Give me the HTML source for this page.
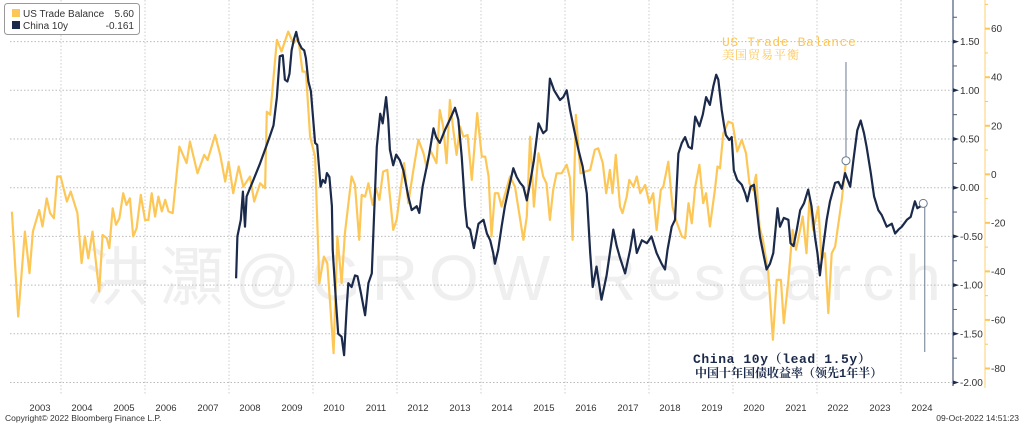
<!DOCTYPE html>
<html><head><meta charset="utf-8"><style>
body{margin:0;background:#fff;width:1024px;height:426px;overflow:hidden;font-family:"Liberation Sans","Noto Sans CJK SC",sans-serif;}
svg{display:block}
</style></head><body>
<svg id="chart" width="1024" height="426" viewBox="0 0 1024 426" xmlns="http://www.w3.org/2000/svg">
<text x="85" y="300" font-size="64" fill="#efefef" font-family="'Liberation Sans','Noto Sans CJK SC',sans-serif" letter-spacing="11">洪灝@GROW Research</text>
<g id="grid"></g>
<g id="series"></g>
<g id="axes"></g>
<g>
<rect x="4.5" y="3.5" width="135" height="31" rx="3" fill="#fff" stroke="#999"/>
<rect x="12" y="9" width="8" height="8" fill="#fdc757"/>
<text x="23" y="17" font-size="10" fill="#333">US Trade Balance</text>
<text x="134" y="17" font-size="10" fill="#333" text-anchor="end">5.60</text>
<rect x="12" y="21" width="8" height="8" fill="#1b2a4a"/>
<text x="23" y="29" font-size="10" fill="#333">China 10y</text>
<text x="134" y="29" font-size="10" fill="#333" text-anchor="end">-0.161</text>
</g>
<g font-family="'Liberation Mono','Noto Serif CJK SC',monospace">
<text x="722" y="46" font-size="13" fill="#fdc757" letter-spacing="0.6">US Trade Balance</text>
<text x="722" y="59" font-size="12" fill="#fdc757" letter-spacing="1">美国贸易平衡</text>
<text x="693" y="363" font-size="13" font-weight="bold" fill="#1b2a4a" letter-spacing="0.6">China 10y（lead 1.5y）</text>
<text x="695" y="377" font-size="12" font-weight="bold" fill="#1b2a4a">中国十年国债收益率（领先1年半）</text>
</g>
<text x="5" y="421" font-size="8.5" fill="#333">Copyright© 2022 Bloomberg Finance L.P.</text>
<text x="1019" y="421" font-size="8.5" fill="#333" text-anchor="end">09-Oct-2022 14:51:23</text>
</svg>
<script>
const tbT=[2002.83,2002.98,2003.14,2003.25,2003.33,2003.48,2003.56,2003.66,2003.74,2003.83,2003.91,2003.99,2004.14,2004.23,2004.39,2004.49,2004.57,2004.65,2004.75,2004.91,2004.99,2005.09,2005.15,2005.23,2005.31,2005.39,2005.48,2005.56,2005.64,2005.72,2005.80,2005.90,2006.00,2006.08,2006.16,2006.24,2006.32,2006.40,2006.48,2006.56,2006.66,2006.82,2006.99,2007.07,2007.25,2007.41,2007.49,2007.67,2007.79,2007.91,2007.99,2008.10,2008.23,2008.34,2008.50,2008.60,2008.74,2008.86,2008.90,2008.98,2009.14,2009.25,2009.41,2009.53,2009.65,2009.75,2009.83,2009.93,2010.05,2010.15,2010.26,2010.34,2010.49,2010.58,2010.68,2010.76,2010.92,2011.00,2011.10,2011.16,2011.24,2011.32,2011.42,2011.50,2011.58,2011.67,2011.77,2011.91,2011.99,2012.17,2012.27,2012.39,2012.51,2012.63,2012.71,2012.79,2012.94,2013.02,2013.10,2013.18,2013.26,2013.34,2013.42,2013.50,2013.58,2013.68,2013.78,2013.91,2014.02,2014.10,2014.18,2014.25,2014.33,2014.41,2014.49,2014.69,2014.81,2015.01,2015.09,2015.17,2015.26,2015.37,2015.48,2015.56,2015.64,2015.72,2015.80,2015.92,2016.04,2016.12,2016.18,2016.26,2016.37,2016.48,2016.60,2016.71,2016.79,2016.90,2016.98,2017.07,2017.13,2017.21,2017.31,2017.37,2017.47,2017.53,2017.63,2017.71,2017.79,2017.91,2018.01,2018.10,2018.18,2018.28,2018.34,2018.46,2018.56,2018.64,2018.78,2018.86,2018.94,2019.02,2019.10,2019.20,2019.29,2019.36,2019.45,2019.57,2019.63,2019.69,2019.77,2019.89,2019.99,2020.10,2020.21,2020.31,2020.39,2020.47,2020.55,2020.63,2020.72,2020.84,2020.95,2021.04,2021.14,2021.21,2021.32,2021.42,2021.50,2021.58,2021.66,2021.75,2021.82,2021.91,2022.03,2022.11,2022.19,2022.27,2022.35,2022.43,2022.59,2022.69];
const tbV=[-15.4,-58.6,-23.6,-40.7,-23.6,-14.7,-21.5,-9.9,-16.0,-18.1,-0.9,-0.9,-11.2,-7.1,-16.0,-36.6,-25.6,-34.6,-23.6,-48.3,-25.0,-26.3,-30.4,-14.0,-20.8,-18.1,-7.8,-12.6,-9.9,-25.6,-22.2,-8.5,-18.8,-18.8,-7.8,-17.4,-9.2,-15.3,-10.5,-15.3,-16.0,11.4,4.6,13.5,0.4,8.0,5.9,16.2,8.0,-3.0,5.2,-7.8,3.2,-5.1,-0.9,-11.2,-3.7,-5.7,25.8,24.5,55.4,50.6,58.8,54.0,56.0,42.3,42.3,15.5,7.3,-44.9,-33.9,-36.6,-73.7,-25.6,-44.9,-24.3,-0.9,-4.4,-27.0,-8.5,-9.2,-3.7,-12.6,-5.7,-10.5,1.1,1.8,-22.9,-18.8,4.6,-11.9,1.8,14.2,8.7,2.5,10.1,4.6,26.5,19.7,4.6,30.6,18.3,8.0,19.7,15.5,16.2,-2.3,25.2,7.3,7.3,-0.9,-25.6,-7.8,-7.8,-13.3,-0.9,-5.1,-27.0,-17.4,15.5,-13.3,8.7,-0.9,-3.7,-18.8,-6.4,0.4,0.4,3.9,-1.6,-27.0,24.5,0.4,1.1,1.8,10.1,10.7,4.6,-7.8,1.8,-7.8,8.0,-13.3,-16.0,-9.2,-2.3,-5.1,-0.9,-7.8,-4.4,-11.9,-7.8,-22.9,-6.4,-5.1,5.2,-13.3,-18.8,-25.6,-26.3,-11.9,-20.2,-5.1,3.9,-11.9,-7.8,-21.5,-6.4,3.2,2.5,16.9,21.7,21.0,9.4,14.2,8.7,-3.7,-6.4,-0.2,-21.5,-27.7,-40.7,-68.2,-43.5,-43.5,-61.3,-43.5,-22.9,-31.1,-24.3,-17.4,-32.5,-10.5,-22.9,-13.3,-35.3,-32.5,-57.2,-32.5,-29.8,-10.5,5.6];
const cnT=[2008.17,2008.20,2008.28,2008.33,2008.38,2008.42,2008.58,2008.74,2008.90,2008.98,2009.06,2009.14,2009.21,2009.28,2009.33,2009.39,2009.44,2009.49,2009.55,2009.60,2009.65,2009.73,2009.79,2009.83,2009.89,2009.95,2010.05,2010.10,2010.18,2010.23,2010.29,2010.33,2010.39,2010.45,2010.47,2010.55,2010.60,2010.68,2010.74,2010.80,2010.84,2010.92,2011.00,2011.06,2011.14,2011.24,2011.32,2011.40,2011.45,2011.52,2011.60,2011.66,2011.74,2011.79,2011.83,2011.91,2011.98,2012.07,2012.15,2012.27,2012.35,2012.47,2012.53,2012.61,2012.71,2012.77,2012.87,2012.93,2013.02,2013.14,2013.26,2013.38,2013.46,2013.54,2013.62,2013.67,2013.74,2013.83,2013.94,2014.06,2014.14,2014.22,2014.29,2014.33,2014.41,2014.49,2014.57,2014.69,2014.77,2014.85,2014.93,2015.01,2015.09,2015.17,2015.26,2015.37,2015.48,2015.56,2015.64,2015.74,2015.88,2015.96,2016.04,2016.12,2016.20,2016.32,2016.42,2016.52,2016.60,2016.66,2016.75,2016.87,2016.99,2017.15,2017.23,2017.31,2017.43,2017.55,2017.63,2017.71,2017.83,2017.95,2018.06,2018.18,2018.30,2018.38,2018.44,2018.54,2018.62,2018.70,2018.78,2018.86,2018.94,2019.02,2019.10,2019.20,2019.28,2019.36,2019.45,2019.53,2019.60,2019.65,2019.73,2019.79,2019.83,2019.91,2019.97,2020.02,2020.10,2020.21,2020.29,2020.34,2020.42,2020.50,2020.56,2020.64,2020.72,2020.80,2020.88,2020.96,2021.06,2021.12,2021.21,2021.32,2021.37,2021.44,2021.52,2021.60,2021.69,2021.79,2021.87,2021.95,2022.01,2022.07,2022.15,2022.23,2022.31,2022.43,2022.51,2022.59,2022.67,2022.79,2022.87,2022.96,2023.04,2023.12,2023.18,2023.28,2023.36,2023.46,2023.54,2023.66,2023.78,2023.86,2023.94,2024.02,2024.14,2024.23,2024.33,2024.39,2024.47,2024.53];
const cnV=[-0.93,-0.50,-0.33,-0.04,-0.40,-0.09,0.08,0.25,0.44,0.54,0.64,0.93,1.35,1.36,1.11,1.09,1.17,1.41,1.53,1.60,1.50,1.43,1.41,1.33,1.09,0.99,0.46,0.44,0.01,0.08,0.05,0.15,0.11,-0.19,-0.64,-1.19,-1.50,-1.53,-1.72,-1.25,-0.98,-1.02,-0.90,-0.91,-1.08,-1.31,-0.98,-0.88,-0.33,0.42,0.76,0.66,0.93,0.70,0.39,0.23,0.34,0.28,0.18,-0.09,-0.23,-0.19,-0.26,0.01,0.22,0.35,0.61,0.52,0.46,0.59,0.70,0.82,0.70,0.32,-0.19,-0.40,-0.43,-0.62,-0.37,-0.33,-0.47,-0.54,-0.67,-0.78,-0.64,-0.40,-0.19,0.05,0.20,0.11,0.05,0.01,-0.13,0.05,0.28,0.66,0.56,0.59,1.12,1.00,0.90,0.93,1.00,0.80,0.63,0.39,0.22,-0.06,-0.67,-1.02,-0.81,-1.15,-0.90,-0.43,-0.60,-0.72,-0.88,-0.64,-0.43,-0.67,-0.54,-0.57,-0.50,-0.67,-0.78,-0.84,-0.64,-0.40,-0.33,0.35,0.46,0.52,0.42,0.40,0.73,0.63,0.75,0.93,0.85,1.04,1.16,1.11,0.80,0.63,0.54,0.49,0.52,0.18,0.08,0.03,-0.06,-0.14,0.01,0.03,-0.19,-0.50,-0.67,-0.84,-0.78,-0.67,-0.21,-0.40,-0.31,-0.33,-0.57,-0.60,-0.43,-0.23,-0.16,-0.02,-0.19,-0.50,-0.67,-0.90,-0.60,-0.33,-0.14,0.05,0.06,-0.01,0.15,0.01,0.29,0.59,0.69,0.56,0.42,0.15,-0.09,-0.23,-0.28,-0.40,-0.37,-0.47,-0.43,-0.40,-0.33,-0.30,-0.14,-0.21,-0.19,-0.161];
const yearLabels=[2003,2004,2005,2006,2007,2008,2009,2010,2011,2012,2013,2014,2015,2016,2017,2018,2019,2020,2021,2022,2023,2024];
const cnTicks=[1.5,1.0,0.5,0.0,-0.5,-1.0,-1.5,-2.0];
const tbTicks=[60,40,20,0,-20,-40,-60,-80];

const NS='http://www.w3.org/2000/svg';
const xS=t=>61+42*(t-2004);
const yC=v=>187.7-97.4*v;
const yT=v=>174.3-2.427*v;
function mk(tag,attrs,parent){const e=document.createElementNS(NS,tag);for(const k in attrs)e.setAttribute(k,attrs[k]);parent.appendChild(e);return e;}
const grid=document.getElementById('grid'),ser=document.getElementById('series'),ax=document.getElementById('axes');
cnTicks.forEach(v=>{const l=mk('line',{x1:10,x2:952,y1:yC(v),y2:yC(v),stroke:'#bbb','stroke-dasharray':'1.5,2'},grid);

});
for(let y=2004;y<=2024;y+=2){const l=mk('line',{x1:xS(y),x2:xS(y),y1:0,y2:395,stroke:'#ccc','stroke-dasharray':'1.5,2'},grid);

}
function path(T,V,yf){return T.map((t,i)=>(i?'L':'M')+xS(t).toFixed(1)+','+yf(V[i]).toFixed(1)).join('');}
const pT=mk('path',{d:path(tbT,tbV,yT),fill:'none',stroke:'#fdc757','stroke-width':2.2,'stroke-linejoin':'round'},ser);


const pC=mk('path',{d:path(cnT,cnV,yC),fill:'none',stroke:'#1b2a4a','stroke-width':2.2,'stroke-linejoin':'round'},ser);


const tx=xS(tbT[tbT.length-1]),ty=yT(tbV[tbV.length-1]);
const l1=mk('line',{x1:tx,x2:tx,y1:62,y2:ty-4,stroke:'#6b7a90','stroke-width':1},ser);


const c1=mk('circle',{cx:tx,cy:ty,r:4,fill:'#fff',stroke:'#6b7a90','stroke-width':1},ser);


const cx=xS(cnT[cnT.length-1]),cy=yC(cnV[cnV.length-1]);
const l2=mk('line',{x1:cx+1.5,x2:cx+1.5,y1:cy+4,y2:352,stroke:'#6b7a90','stroke-width':1},ser);


const c2=mk('circle',{cx:cx,cy:cy,r:4,fill:'#fff',stroke:'#6b7a90','stroke-width':1},ser);


const a1=mk('line',{x1:953,x2:953,y1:0,y2:386,stroke:'#4a5a78','stroke-width':1.2},ax);


for(let v=1.75;v>=-2;v-=0.25){const m=mk('line',{x1:953,x2:957,y1:yC(v),y2:yC(v),stroke:'#4a5a78'},ax);

}
cnTicks.forEach(v=>{const y=yC(v);const m=mk('path',{d:`M953,${y-2}L959,${y}L953,${y+2}Z`,fill:'#1b2a4a'},ax);


const t=mk('text',{x:960,y:y+3.5,'font-size':10,fill:'#333'},ax);t.textContent=v.toFixed(2);

});
const a2=mk('line',{x1:985,x2:985,y1:0,y2:388,stroke:'#fdd98a','stroke-width':1.2},ax);


for(let v=70;v>=-85;v-=10){const m=mk('line',{x1:985,x2:988,y1:yT(v),y2:yT(v),stroke:'#fdc757'},ax);

}
tbTicks.forEach(v=>{const y=yT(v);const m=mk('line',{x1:985,x2:990,y1:y,y2:y,stroke:'#fdc757','stroke-width':2},ax);


const t=mk('text',{x:991,y:y+3.5,'font-size':10,fill:'#333'},ax);t.textContent=v;

});
yearLabels.forEach(y=>{const t=mk('text',{x:xS(y+0.5),y:411,'font-size':9.5,fill:'#333','text-anchor':'middle'},ax);t.textContent=y;

});
</script>
</body></html>
